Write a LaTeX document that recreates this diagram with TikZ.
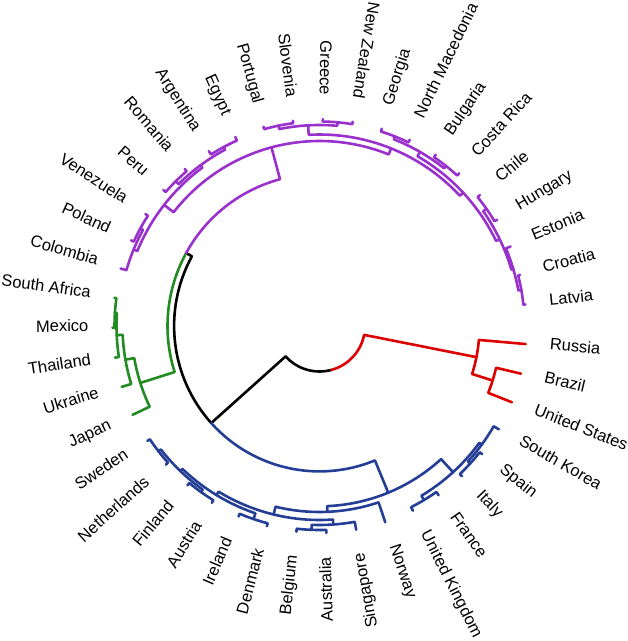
\documentclass[tikz,border=0pt]{standalone}
\usepackage{fontspec}
\setmainfont{Liberation Sans}
\definecolor{cpur}{RGB}{153,50,204}
\definecolor{cgrn}{RGB}{34,139,34}
\definecolor{cblu}{RGB}{36,62,150}
\definecolor{cred}{RGB}{221,0,0}
\newcommand\mkleaf[2]{\pgfmathsetmacro\tmpa{-5-8.31*#2}\expandafter\xdef\csname dA@#1\endcsname{\tmpa}\expandafter\xdef\csname dR@#1\endcsname{207}}
\newcommand\mknode[4]{\pgfmathsetmacro\tmpa{(\csname dA@#2\endcsname+\csname dA@#3\endcsname)/2}\expandafter\xdef\csname dA@#1\endcsname{\tmpa}\expandafter\xdef\csname dR@#1\endcsname{#4}}
\newcommand\mkedge[3]{\draw[branch,#3] (\csname dA@#1\endcsname:\csname dR@#1\endcsname pt) arc[start angle=\csname dA@#1\endcsname, end angle=\csname dA@#2\endcsname, radius=\csname dR@#1\endcsname pt] -- (\csname dA@#2\endcsname:\csname dR@#2\endcsname pt);}
\newcommand\mklab[3]{%
  \ifnum#3=1
    \pgfmathsetmacro\tmpb{\csname dA@#1\endcsname+180}%
    \node[lab,anchor=east,rotate=\tmpb] (L#1) at (\csname dA@#1\endcsname:231pt) {#2};
  \else
    \node[lab,anchor=west,rotate=\csname dA@#1\endcsname] (L#1) at (\csname dA@#1\endcsname:231pt) {#2};
  \fi}
\tikzset{branch/.style={line width=2.6pt,line cap=round,line join=round},
  lab/.style={inner sep=0pt,font=\fontsize{16.5}{18}\selectfont,text height=0.72em,text depth=0pt}}
\begin{document}
\begin{tikzpicture}
\useasboundingbox (-319.5pt,-315pt) rectangle (308.5pt,326pt);
% leaves
\mkleaf{Russia}{0}\mkleaf{Brazil}{1}\mkleaf{US}{2}\mkleaf{SKorea}{3}\mkleaf{Spain}{4}\mkleaf{Italy}{5}\mkleaf{France}{6}\mkleaf{UK}{7}\mkleaf{Norway}{8}\mkleaf{Singapore}{9}\mkleaf{Australia}{10}\mkleaf{Belgium}{11}\mkleaf{Denmark}{12}\mkleaf{Ireland}{13}\mkleaf{Austria}{14}\mkleaf{Finland}{15}\mkleaf{Netherlands}{16}\mkleaf{Sweden}{17}\mkleaf{Japan}{18}\mkleaf{Ukraine}{19}\mkleaf{Thailand}{20}\mkleaf{Mexico}{21}\mkleaf{SAfrica}{22}\mkleaf{Colombia}{23}\mkleaf{Poland}{24}\mkleaf{Venezuela}{25}\mkleaf{Peru}{26}\mkleaf{Romania}{27}\mkleaf{Argentina}{28}\mkleaf{Egypt}{29}\mkleaf{Portugal}{30}\mkleaf{Slovenia}{31}\mkleaf{Greece}{32}\mkleaf{NZ}{33}\mkleaf{Georgia}{34}\mkleaf{NMac}{35}\mkleaf{Bulgaria}{36}\mkleaf{CRica}{37}\mkleaf{Chile}{38}\mkleaf{Hungary}{39}\mkleaf{Estonia}{40}\mkleaf{Croatia}{41}\mkleaf{Latvia}{42}
% internal nodes
\mknode{RB}{Brazil}{US}{181.5}\mknode{R}{Russia}{RB}{160}
\mknode{UF}{UK}{France}{203}\mknode{IS}{Italy}{Spain}{204}\mknode{ISK}{IS}{SKorea}{201}\mknode{BR}{UF}{ISK}{198}
\mknode{SN}{Sweden}{Netherlands}{204}\mknode{FA}{Finland}{Austria}{204}\mknode{SNFA}{SN}{FA}{201}\mknode{ID}{Ireland}{Denmark}{204}\mknode{Q2}{SNFA}{ID}{198}\mknode{BA}{Belgium}{Australia}{204}\mknode{Q1}{BA}{Singapore}{199}\mknode{Q}{Q2}{Q1}{194}\mknode{BL}{Norway}{Q}{186}\mknode{B}{BL}{BR}{180.3}
\mknode{J}{SAfrica}{Mexico}{205}\mknode{I}{Thailand}{J}{203}\mknode{H}{Ukraine}{I}{197}\mknode{G}{H}{Japan}{188}
\mknode{PV}{Poland}{Venezuela}{204}\mknode{P1L}{Colombia}{PV}{201}\mknode{PR}{Peru}{Romania}{204}\mknode{AE}{Argentina}{Egypt}{203}\mknode{P1R}{PR}{AE}{200}\mknode{P1}{P1L}{P1R}{197}
\mknode{PS}{Portugal}{Slovenia}{204.5}\mknode{GN}{Greece}{NZ}{204.5}\mknode{T}{PS}{GN}{201}
\mknode{GM}{Georgia}{NMac}{204}\mknode{BC}{Bulgaria}{CRica}{204}\mknode{RG1}{GM}{BC}{201}
\mknode{CH}{Chile}{Hungary}{204}\mknode{CL}{Croatia}{Latvia}{205}\mknode{ECL}{Estonia}{CL}{202}\mknode{RG2}{CH}{ECL}{200}\mknode{RG}{RG1}{RG2}{196}\mknode{P2}{T}{RG}{191.5}\mknode{P}{P1}{P2}{185}
\mknode{GP}{G}{P}{152}\mknode{A}{GP}{B}{145.4}\mknode{Root}{A}{R}{45.5}
% edges
\mkedge{Root}{A}{black}\mkedge{Root}{R}{cred}
\mkedge{A}{GP}{black}\mkedge{A}{B}{cblu}
\mkedge{GP}{G}{cgrn}\mkedge{GP}{P}{cpur}
% red
\mkedge{R}{Russia}{cred}\mkedge{R}{RB}{cred}\mkedge{RB}{Brazil}{cred}\mkedge{RB}{US}{cred}
% blue
\mkedge{B}{BL}{cblu}\mkedge{B}{BR}{cblu}
\mkedge{BR}{UF}{cblu}\mkedge{BR}{ISK}{cblu}\mkedge{UF}{UK}{cblu}\mkedge{UF}{France}{cblu}\mkedge{ISK}{IS}{cblu}\mkedge{ISK}{SKorea}{cblu}\mkedge{IS}{Italy}{cblu}\mkedge{IS}{Spain}{cblu}
\mkedge{BL}{Norway}{cblu}\mkedge{BL}{Q}{cblu}\mkedge{Q}{Q1}{cblu}\mkedge{Q}{Q2}{cblu}
\mkedge{Q1}{BA}{cblu}\mkedge{Q1}{Singapore}{cblu}\mkedge{BA}{Belgium}{cblu}\mkedge{BA}{Australia}{cblu}
\mkedge{Q2}{SNFA}{cblu}\mkedge{Q2}{ID}{cblu}\mkedge{ID}{Ireland}{cblu}\mkedge{ID}{Denmark}{cblu}
\mkedge{SNFA}{SN}{cblu}\mkedge{SNFA}{FA}{cblu}\mkedge{SN}{Sweden}{cblu}\mkedge{SN}{Netherlands}{cblu}\mkedge{FA}{Finland}{cblu}\mkedge{FA}{Austria}{cblu}
% green
\mkedge{G}{H}{cgrn}\mkedge{G}{Japan}{cgrn}\mkedge{H}{Ukraine}{cgrn}\mkedge{H}{I}{cgrn}\mkedge{I}{Thailand}{cgrn}\mkedge{I}{J}{cgrn}\mkedge{J}{SAfrica}{cgrn}\mkedge{J}{Mexico}{cgrn}
% purple
\mkedge{P}{P1}{cpur}\mkedge{P}{P2}{cpur}
\mkedge{P1}{P1L}{cpur}\mkedge{P1}{P1R}{cpur}\mkedge{P1L}{Colombia}{cpur}\mkedge{P1L}{PV}{cpur}\mkedge{PV}{Poland}{cpur}\mkedge{PV}{Venezuela}{cpur}
\mkedge{P1R}{PR}{cpur}\mkedge{P1R}{AE}{cpur}\mkedge{PR}{Peru}{cpur}\mkedge{PR}{Romania}{cpur}\mkedge{AE}{Argentina}{cpur}\mkedge{AE}{Egypt}{cpur}
\mkedge{P2}{T}{cpur}\mkedge{P2}{RG}{cpur}\mkedge{T}{PS}{cpur}\mkedge{T}{GN}{cpur}\mkedge{PS}{Portugal}{cpur}\mkedge{PS}{Slovenia}{cpur}\mkedge{GN}{Greece}{cpur}\mkedge{GN}{NZ}{cpur}
\mkedge{RG}{RG1}{cpur}\mkedge{RG}{RG2}{cpur}\mkedge{RG1}{GM}{cpur}\mkedge{RG1}{BC}{cpur}\mkedge{GM}{Georgia}{cpur}\mkedge{GM}{NMac}{cpur}\mkedge{BC}{Bulgaria}{cpur}\mkedge{BC}{CRica}{cpur}
\mkedge{RG2}{CH}{cpur}\mkedge{RG2}{ECL}{cpur}\mkedge{CH}{Chile}{cpur}\mkedge{CH}{Hungary}{cpur}\mkedge{ECL}{Estonia}{cpur}\mkedge{ECL}{CL}{cpur}\mkedge{CL}{Croatia}{cpur}\mkedge{CL}{Latvia}{cpur}
% labels
\mklab{Russia}{Russia}{0}\mklab{Brazil}{Brazil}{0}\mklab{US}{United States}{0}\mklab{SKorea}{South Korea}{0}\mklab{Spain}{Spain}{0}\mklab{Italy}{Italy}{0}\mklab{France}{France}{0}\mklab{UK}{United Kingdom}{0}\mklab{Norway}{Norway}{0}
\mklab{Singapore}{Singapore}{1}\mklab{Australia}{Australia}{1}\mklab{Belgium}{Belgium}{1}\mklab{Denmark}{Denmark}{1}\mklab{Ireland}{Ireland}{1}\mklab{Austria}{Austria}{1}\mklab{Finland}{Finland}{1}\mklab{Netherlands}{Netherlands}{1}\mklab{Sweden}{Sweden}{1}\mklab{Japan}{Japan}{1}\mklab{Ukraine}{Ukraine}{1}\mklab{Thailand}{Thailand}{1}\mklab{Mexico}{Mexico}{1}\mklab{SAfrica}{South Africa}{1}\mklab{Colombia}{Colombia}{1}\mklab{Poland}{Poland}{1}\mklab{Venezuela}{Venezuela}{1}\mklab{Peru}{Peru}{1}\mklab{Romania}{Romania}{1}\mklab{Argentina}{Argentina}{1}\mklab{Egypt}{Egypt}{1}\mklab{Portugal}{Portugal}{1}\mklab{Slovenia}{Slovenia}{1}\mklab{Greece}{Greece}{1}\mklab{NZ}{New Zealand}{1}
\mklab{Georgia}{Georgia}{0}\mklab{NMac}{North Macedonia}{0}\mklab{Bulgaria}{Bulgaria}{0}\mklab{CRica}{Costa Rica}{0}\mklab{Chile}{Chile}{0}\mklab{Hungary}{Hungary}{0}\mklab{Estonia}{Estonia}{0}\mklab{Croatia}{Croatia}{0}\mklab{Latvia}{Latvia}{0}
\end{tikzpicture}
\end{document}
